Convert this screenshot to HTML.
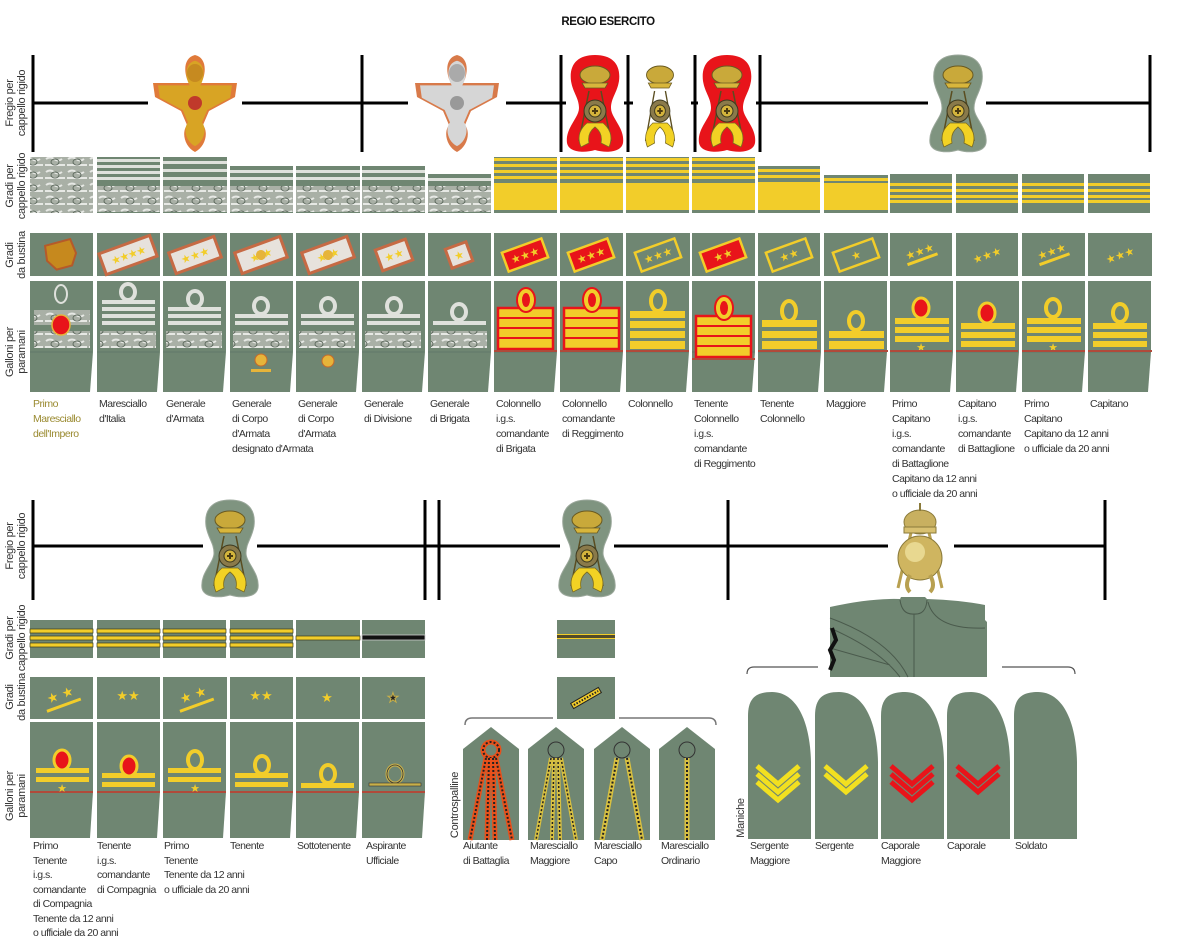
<!DOCTYPE html>
<html><head><meta charset="utf-8"><style>
html,body{margin:0;padding:0;background:#fff;}
svg{display:block}
text{font-family:"Liberation Sans",Arial,sans-serif;}
.l{font-size:10.5px;letter-spacing:-0.5px;fill:#333}
.r{font-size:11px;letter-spacing:-0.3px;fill:#333}
.st{font-size:11px;fill:#f2cd2a;font-family:"DejaVu Sans",sans-serif}
</style></head><body>
<svg width="1200" height="941" viewBox="0 0 1200 941" xmlns="http://www.w3.org/2000/svg">
<defs>
<pattern id="br" x="0" y="0" width="22" height="13" patternUnits="userSpaceOnUse">
<rect width="22" height="13" fill="#a9b0a6"/>
<path d="M2,3 Q6,0 10,3 Q14,6 18,3 M1,9 H21" stroke="#e6e8e4" stroke-width="2" fill="none"/>
<ellipse cx="11" cy="6" rx="4" ry="3" fill="none" stroke="#5e6a5e" stroke-width="1"/>
</pattern>
<path id="pea" d="M0,-48 C18,-48 26,-38 24,-22 C22,-10 16,-5 16,5 C16,15 30,25 28,40 C26,50 10,50 0,47 C-10,50 -26,50 -28,40 C-30,25 -16,15 -16,5 C-16,-5 -22,-10 -24,-22 C-26,-38 -18,-48 0,-48Z"/>
<g id="emb">
<ellipse cx="0" cy="-28" rx="15" ry="9" fill="#c9a93a" stroke="#6a5a20"/>
<path d="M-13,-20 H13 L10,-15 H-10Z" fill="#d8b63c" stroke="#6a5a20" stroke-width="0.8"/>
<path d="M-6,-12 L-16,38 M6,-12 L16,38" stroke="#5a4d20" stroke-width="1.5"/>
<path d="M-8,20 Q-20,30 -14,44 L-6,40 Q-8,30 0,24 Q8,30 6,40 L14,44 Q20,30 8,20Z" fill="#f2d224" stroke="#7a6a20" stroke-width="0.8"/>
<circle cx="0" cy="8" r="11" fill="#8a7a4a" stroke="#3d3a20"/>
<circle cx="0" cy="8" r="6" fill="#d4b43c" stroke="#3d3a20"/>
<path d="M-3,8 H3 M0,5 V11" stroke="#4a3a10" stroke-width="2"/>
</g>
<g id="eagle">
<path d="M0,-48 C9,-46 12,-36 8,-24 L6,-20 L42,-20 L40,-6 L14,8 L8,22 C14,30 10,44 0,49 C-10,44 -14,30 -8,22 L-14,8 L-40,-6 L-42,-20 L-6,-20 L-8,-24 C-12,-36 -9,-46 0,-48Z"/>
</g>
<path id="sl" d="M0,147 V24 C0,6 8,0 24,0 C48,0 62,28 63,70 V147Z" fill="#6f8672"/>
<path id="board" d="M0,22 L28,0 L56,22 V113 H0Z" fill="#6f8672"/>
<g id="gc"><rect y="157" width="63" height="56" fill="#6f8672"/><rect y="158" width="63" height="3" fill="#f2cd2a"/><rect y="164" width="63" height="3" fill="#f2cd2a"/><rect y="170" width="63" height="3" fill="#f2cd2a"/><rect y="176" width="63" height="3" fill="#f2cd2a"/><rect y="183" width="63" height="27" fill="#f2cd2a"/></g>
<g id="cc"><rect y="174" width="62" height="39" fill="#6f8672"/><rect y="183" width="62" height="3" fill="#f2cd2a"/><rect y="189" width="62" height="3" fill="#f2cd2a"/><rect y="195" width="62" height="3" fill="#f2cd2a"/><rect y="200" width="62" height="3" fill="#f2cd2a"/></g>
<g id="pm"><path d="M0,0 H63 V71 L60,111 H0Z" fill="#6f8672"/><line x1="0" y1="71" x2="62" y2="71" stroke="#62786a" stroke-width="1"/></g>
<g id="colR"><rect x="4" y="308" width="55" height="41" fill="#f2cd2a" stroke="#e8141a" stroke-width="2.5"/><path d="M5,318 H58 M5,328 H58 M5,338 H58" stroke="#e8141a" stroke-width="2"/><ellipse cx="32" cy="300" rx="9" ry="12" fill="#f2cd2a" stroke="#e8141a" stroke-width="2"/><ellipse cx="32" cy="300" rx="4" ry="7" fill="#e8141a"/><rect x="0" y="350" width="63" height="2" fill="#b04a3a"/></g>
<g id="tc"><rect y="620" width="63" height="38" fill="#6f8672"/><rect y="629" width="63" height="4" fill="#f2cd2a" stroke="#3a3a1a" stroke-width="0.7"/><rect y="636" width="63" height="4" fill="#f2cd2a" stroke="#3a3a1a" stroke-width="0.7"/><rect y="643" width="63" height="4" fill="#f2cd2a" stroke="#3a3a1a" stroke-width="0.7"/></g>
<g id="pb"><path d="M0,0 H63 V70 L60,116 H0Z" fill="#6f8672"/><rect x="0" y="69" width="63" height="2" fill="#b04a3a"/></g>
</defs>

<text x="608" y="25" text-anchor="middle" style="font-size:11.5px;font-weight:bold;letter-spacing:-0.4px;fill:#111">REGIO ESERCITO</text>

<g class="r">
<text transform="translate(13,103) rotate(-90)" text-anchor="middle">Fregio per</text>
<text transform="translate(25,103) rotate(-90)" text-anchor="middle">cappello rigido</text>
<text transform="translate(13,186) rotate(-90)" text-anchor="middle">Gradi per</text>
<text transform="translate(25,186) rotate(-90)" text-anchor="middle">cappello rigido</text>
<text transform="translate(13,255) rotate(-90)" text-anchor="middle">Gradi</text>
<text transform="translate(25,255) rotate(-90)" text-anchor="middle">da bustina</text>
<text transform="translate(13,352) rotate(-90)" text-anchor="middle">Galloni per</text>
<text transform="translate(25,352) rotate(-90)" text-anchor="middle">paramani</text>

<text transform="translate(13,546) rotate(-90)" text-anchor="middle">Fregio per</text>
<text transform="translate(25,546) rotate(-90)" text-anchor="middle">cappello rigido</text>
<text transform="translate(13,638) rotate(-90)" text-anchor="middle">Gradi per</text>
<text transform="translate(25,638) rotate(-90)" text-anchor="middle">cappello rigido</text>
<text transform="translate(13,697) rotate(-90)" text-anchor="middle">Gradi</text>
<text transform="translate(25,697) rotate(-90)" text-anchor="middle">da bustina</text>
<text transform="translate(13,796) rotate(-90)" text-anchor="middle">Galloni per</text>
<text transform="translate(25,796) rotate(-90)" text-anchor="middle">paramani</text>
<text transform="translate(458,805) rotate(-90)" text-anchor="middle">Controspalline</text>
<text transform="translate(744,818) rotate(-90)" text-anchor="middle">Maniche</text>
</g>

<!-- TOP FREGIO -->
<g stroke="#000" stroke-width="3">
<line x1="33" y1="103" x2="1150" y2="103"/>
<line x1="33" y1="55" x2="33" y2="152"/>
<line x1="362" y1="55" x2="362" y2="152"/>
<line x1="561" y1="55" x2="561" y2="152"/>
<line x1="628" y1="55" x2="628" y2="152"/>
<line x1="695" y1="55" x2="695" y2="152"/>
<line x1="760" y1="55" x2="760" y2="152"/>
<line x1="1150" y1="55" x2="1150" y2="152"/>
</g>
<rect x="148" y="95" width="94" height="16" fill="#fff"/>
<g transform="translate(195,103)"><use href="#eagle" fill="#e07a3a"/><use href="#eagle" fill="#d8a424" transform="scale(0.88)"/><circle cx="0" cy="0" r="7" fill="#c0392b"/><ellipse cx="0" cy="-30" rx="8" ry="9" fill="#c68a20"/></g>
<rect x="408" y="95" width="98" height="16" fill="#fff"/>
<g transform="translate(457,103)"><use href="#eagle" fill="#d87a4a"/><use href="#eagle" fill="#d6d6d6" transform="scale(0.88)"/><circle cx="0" cy="0" r="7" fill="#999"/><ellipse cx="0" cy="-30" rx="8" ry="9" fill="#aaa"/></g>
<rect x="566" y="95" width="58" height="16" fill="#fff"/>
<g transform="translate(595,103)"><use href="#pea" fill="#e8141a"/><use href="#emb"/></g>
<rect x="633" y="95" width="58" height="16" fill="#fff"/>
<g transform="translate(660,103) scale(0.9,1)"><use href="#emb"/></g>
<rect x="698" y="95" width="58" height="16" fill="#fff"/>
<g transform="translate(727,103)"><use href="#pea" fill="#e8141a"/><use href="#emb"/></g>
<rect x="928" y="95" width="58" height="16" fill="#fff"/>
<g transform="translate(958,103)"><use href="#pea" fill="#7f9480" stroke="#9aa79a"/><use href="#emb"/></g>

<!-- ROW 2 gradi cappello (top) -->
<rect x="30" y="157" width="63" height="56" fill="url(#br)"/>
<g transform="translate(97,0)"><rect y="157" width="63" height="56" fill="#6f8672"/><rect y="159" width="63" height="3" fill="#dfe1dc"/><rect y="165" width="63" height="3" fill="#dfe1dc"/><rect y="171" width="63" height="3" fill="#dfe1dc"/><rect y="177" width="63" height="3" fill="#dfe1dc"/><rect y="186" width="63" height="26" fill="url(#br)"/></g>
<g transform="translate(163,0)"><rect y="157" width="64" height="56" fill="#6f8672"/><rect y="161" width="64" height="3" fill="#dfe1dc"/><rect y="169" width="64" height="3" fill="#dfe1dc"/><rect y="177" width="64" height="3" fill="#dfe1dc"/><rect y="186" width="64" height="26" fill="url(#br)"/></g>
<g transform="translate(230,0)"><rect y="166" width="63" height="47" fill="#6f8672"/><rect y="170" width="63" height="3" fill="#dfe1dc"/><rect y="177" width="63" height="3" fill="#dfe1dc"/><rect y="186" width="63" height="26" fill="url(#br)"/></g>
<g transform="translate(296,0)"><rect y="166" width="64" height="47" fill="#6f8672"/><rect y="170" width="64" height="3" fill="#dfe1dc"/><rect y="177" width="64" height="3" fill="#dfe1dc"/><rect y="186" width="64" height="26" fill="url(#br)"/></g>
<g transform="translate(362,0)"><rect y="166" width="63" height="47" fill="#6f8672"/><rect y="170" width="63" height="3" fill="#dfe1dc"/><rect y="177" width="63" height="3" fill="#dfe1dc"/><rect y="186" width="63" height="26" fill="url(#br)"/></g>
<g transform="translate(428,0)"><rect y="174" width="63" height="39" fill="#6f8672"/><rect y="178" width="63" height="3" fill="#dfe1dc"/><rect y="186" width="63" height="26" fill="url(#br)"/></g>
<use href="#gc" x="494"/><use href="#gc" x="560"/><use href="#gc" x="626"/><use href="#gc" x="692"/>
<g transform="translate(758,0)"><rect y="166" width="62" height="47" fill="#6f8672"/><rect y="169" width="62" height="3" fill="#f2cd2a"/><rect y="175" width="62" height="3" fill="#f2cd2a"/><rect y="182" width="62" height="28" fill="#f2cd2a"/></g>
<g transform="translate(824,0)"><rect y="175" width="64" height="38" fill="#6f8672"/><rect y="178" width="64" height="3" fill="#f2cd2a"/><rect y="183" width="64" height="27" fill="#f2cd2a"/></g>
<use href="#cc" x="890"/><use href="#cc" x="956"/><use href="#cc" x="1022"/><use href="#cc" x="1088"/>

<!-- ROW 3 bustina (top) -->
<g fill="#6f8672">
<rect x="30" y="233" width="63" height="43"/><rect x="97" y="233" width="63" height="43"/><rect x="163" y="233" width="64" height="43"/><rect x="230" y="233" width="63" height="43"/><rect x="296" y="233" width="64" height="43"/><rect x="362" y="233" width="63" height="43"/><rect x="428" y="233" width="63" height="43"/><rect x="494" y="233" width="63" height="43"/><rect x="560" y="233" width="63" height="43"/><rect x="626" y="233" width="64" height="43"/><rect x="692" y="233" width="63" height="43"/><rect x="758" y="233" width="62" height="43"/><rect x="824" y="233" width="64" height="43"/><rect x="890" y="233" width="62" height="43"/><rect x="956" y="233" width="62" height="43"/><rect x="1022" y="233" width="63" height="43"/><rect x="1088" y="233" width="64" height="43"/>
</g>
<g>
<g transform="translate(61,255) rotate(-15)"><path d="M-13,-13 L13,-13 L15,2 L8,13 L-8,13 L-15,2Z" fill="#c6891e" stroke="#b55a2a" stroke-width="2"/></g>
<g transform="translate(128,255) rotate(-20)"><rect x="-27" y="-11" width="54" height="22" fill="#e7e2dc" stroke="#c66a44" stroke-width="3"/><text x="0" y="4" text-anchor="middle" class="st" style="letter-spacing:-1px">★★★★</text></g>
<g transform="translate(195,255) rotate(-20)"><rect x="-24" y="-11" width="48" height="22" fill="#e7e2dc" stroke="#c66a44" stroke-width="3"/><text x="0" y="4" text-anchor="middle" class="st">★★★</text></g>
<g transform="translate(261,255) rotate(-20)"><rect x="-24" y="-11" width="48" height="22" fill="#e7e2dc" stroke="#c66a44" stroke-width="3"/><text x="0" y="4" text-anchor="middle" class="st">★ ★</text><circle cx="0" cy="0" r="5" fill="#e6b43a"/></g>
<g transform="translate(328,255) rotate(-20)"><rect x="-24" y="-11" width="48" height="22" fill="#e7e2dc" stroke="#c66a44" stroke-width="3"/><text x="0" y="4" text-anchor="middle" class="st">★ ★</text><circle cx="0" cy="0" r="5" fill="#e6b43a"/></g>
<g transform="translate(394,255) rotate(-20)"><rect x="-16" y="-11" width="32" height="22" fill="#e7e2dc" stroke="#c66a44" stroke-width="3"/><text x="0" y="4" text-anchor="middle" class="st">★★</text></g>
<g transform="translate(459,255) rotate(-20)"><rect x="-11" y="-10" width="22" height="20" fill="#e7e2dc" stroke="#c66a44" stroke-width="3"/><text x="0" y="4" text-anchor="middle" class="st">★</text></g>
<g transform="translate(525,255) rotate(-20)"><rect x="-21" y="-10" width="42" height="20" fill="#e8141a" stroke="#f2cd2a" stroke-width="2.5"/><text x="0" y="4" text-anchor="middle" class="st">★★★</text></g>
<g transform="translate(591,255) rotate(-20)"><rect x="-21" y="-10" width="42" height="20" fill="#e8141a" stroke="#f2cd2a" stroke-width="2.5"/><text x="0" y="4" text-anchor="middle" class="st">★★★</text></g>
<g transform="translate(658,255) rotate(-20)"><rect x="-21" y="-10" width="42" height="20" fill="none" stroke="#f2cd2a" stroke-width="2.5"/><text x="0" y="4" text-anchor="middle" class="st">★★★</text></g>
<g transform="translate(723,255) rotate(-20)"><rect x="-21" y="-10" width="42" height="20" fill="#e8141a" stroke="#f2cd2a" stroke-width="2.5"/><text x="0" y="4" text-anchor="middle" class="st">★★</text></g>
<g transform="translate(789,255) rotate(-20)"><rect x="-21" y="-10" width="42" height="20" fill="none" stroke="#f2cd2a" stroke-width="2.5"/><text x="0" y="4" text-anchor="middle" class="st">★★</text></g>
<g transform="translate(856,255) rotate(-20)"><rect x="-21" y="-10" width="42" height="20" fill="none" stroke="#f2cd2a" stroke-width="2.5"/><text x="0" y="4" text-anchor="middle" class="st">★</text></g>
<g transform="translate(921,255) rotate(-20)"><text x="0" y="0" text-anchor="middle" class="st">★★★</text><rect x="-16" y="3" width="32" height="3" fill="#f2cd2a"/></g>
<g transform="translate(987,255) rotate(-20)"><text x="0" y="4" text-anchor="middle" class="st">★★★</text></g>
<g transform="translate(1053,255) rotate(-20)"><text x="0" y="0" text-anchor="middle" class="st">★★★</text><rect x="-16" y="3" width="32" height="3" fill="#f2cd2a"/></g>
<g transform="translate(1120,255) rotate(-20)"><text x="0" y="4" text-anchor="middle" class="st">★★★</text></g>
</g>

<!-- ROW 4 paramani (top) -->
<use href="#pm" x="30" y="281"/><use href="#pm" x="97" y="281"/><use href="#pm" x="163" y="281"/><use href="#pm" x="230" y="281"/><use href="#pm" x="296" y="281"/><use href="#pm" x="362" y="281"/><use href="#pm" x="428" y="281"/><use href="#pm" x="494" y="281"/><use href="#pm" x="560" y="281"/><use href="#pm" x="626" y="281"/><use href="#pm" x="692" y="281"/><use href="#pm" x="758" y="281"/><use href="#pm" x="824" y="281"/><use href="#pm" x="890" y="281"/><use href="#pm" x="956" y="281"/><use href="#pm" x="1022" y="281"/><use href="#pm" x="1088" y="281"/>
<g fill="none" stroke="#dfe1dc" stroke-width="4">
<ellipse cx="61" cy="294" rx="6" ry="9" stroke-width="2"/>
<ellipse cx="128" cy="292" rx="7" ry="8"/><ellipse cx="195" cy="299" rx="7" ry="8"/><ellipse cx="261" cy="306" rx="7" ry="8"/><ellipse cx="328" cy="306" rx="7" ry="8"/><ellipse cx="394" cy="306" rx="7" ry="8"/><ellipse cx="459" cy="312" rx="7" ry="8"/>
</g>
<g fill="#dfe1dc">
<rect x="102" y="300" width="53" height="4"/><rect x="102" y="307" width="53" height="4"/><rect x="102" y="314" width="53" height="4"/><rect x="102" y="321" width="53" height="4"/>
<rect x="168" y="307" width="53" height="4"/><rect x="168" y="314" width="53" height="4"/><rect x="168" y="321" width="53" height="4"/>
<rect x="235" y="314" width="53" height="4"/><rect x="235" y="321" width="53" height="4"/>
<rect x="301" y="314" width="53" height="4"/><rect x="301" y="321" width="53" height="4"/>
<rect x="367" y="314" width="53" height="4"/><rect x="367" y="321" width="53" height="4"/>
<rect x="433" y="321" width="53" height="4"/>
</g>
<g fill="url(#br)">
<rect x="34" y="310" width="56" height="15"/><rect x="34" y="331" width="56" height="17"/>
<rect x="100" y="331" width="56" height="17"/><rect x="166" y="331" width="56" height="17"/><rect x="233" y="331" width="56" height="17"/><rect x="299" y="331" width="56" height="17"/><rect x="365" y="331" width="56" height="17"/><rect x="431" y="331" width="56" height="17"/>
</g>
<ellipse cx="61" cy="325" rx="9" ry="10" fill="#e8141a" stroke="#e6b43a" stroke-width="1.5"/>
<circle cx="261" cy="360" r="6" fill="#e6b43a" stroke="#c66a2a"/><rect x="251" y="369" width="20" height="3" fill="#e6b43a"/>
<circle cx="328" cy="361" r="6" fill="#e6b43a" stroke="#c66a2a"/>
<use href="#colR" x="494"/><use href="#colR" x="560"/><use href="#colR" x="692" y="8"/>
<g fill="#f2cd2a">
<rect x="630" y="311" width="55" height="7"/><rect x="630" y="321" width="55" height="7"/><rect x="630" y="331" width="55" height="7"/><rect x="630" y="341" width="55" height="8"/>
<rect x="762" y="320" width="55" height="7"/><rect x="762" y="331" width="55" height="7"/><rect x="762" y="341" width="55" height="8"/>
<rect x="829" y="331" width="55" height="7"/><rect x="829" y="341" width="55" height="8"/>
<rect x="895" y="318" width="54" height="6"/><rect x="895" y="327" width="54" height="6"/><rect x="895" y="336" width="54" height="6"/>
<rect x="961" y="323" width="54" height="6"/><rect x="961" y="332" width="54" height="6"/><rect x="961" y="341" width="54" height="6"/>
<rect x="1027" y="318" width="54" height="6"/><rect x="1027" y="327" width="54" height="6"/><rect x="1027" y="336" width="54" height="6"/>
<rect x="1093" y="323" width="54" height="6"/><rect x="1093" y="332" width="54" height="6"/><rect x="1093" y="341" width="54" height="6"/>
</g>
<g fill="none" stroke="#f2cd2a" stroke-width="4">
<ellipse cx="658" cy="301" rx="7" ry="10"/><ellipse cx="789" cy="311" rx="7" ry="10"/><ellipse cx="856" cy="321" rx="7" ry="9"/>
<ellipse cx="1053" cy="308" rx="7" ry="9"/><ellipse cx="1120" cy="313" rx="7" ry="9"/>
</g>
<ellipse cx="921" cy="308" rx="8" ry="10" fill="#e8141a" stroke="#f2cd2a" stroke-width="3"/>
<ellipse cx="987" cy="313" rx="8" ry="10" fill="#e8141a" stroke="#f2cd2a" stroke-width="3"/>
<text x="921" y="351" text-anchor="middle" class="st">★</text><text x="1053" y="351" text-anchor="middle" class="st">★</text>
<g fill="#b04a3a"><rect x="626" y="350" width="63" height="2"/><rect x="758" y="350" width="62" height="2"/><rect x="824" y="350" width="64" height="2"/><rect x="890" y="350" width="62" height="2"/><rect x="956" y="350" width="62" height="2"/><rect x="1022" y="350" width="63" height="2"/><rect x="1088" y="350" width="64" height="2"/></g>

<g class="l">
<text x="33" y="407" style="fill:#9a8a30">Primo</text><text x="33" y="422" style="fill:#9a8a30">Maresciallo</text><text x="33" y="437" style="fill:#9a8a30">dell'Impero</text>
<text x="99" y="407">Maresciallo</text><text x="99" y="422">d'Italia</text>
<text x="166" y="407">Generale</text><text x="166" y="422">d'Armata</text>
<text x="232" y="407">Generale</text><text x="232" y="422">di Corpo</text><text x="232" y="437">d'Armata</text><text x="232" y="452">designato d'Armata</text>
<text x="298" y="407">Generale</text><text x="298" y="422">di Corpo</text><text x="298" y="437">d'Armata</text>
<text x="364" y="407">Generale</text><text x="364" y="422">di Divisione</text>
<text x="430" y="407">Generale</text><text x="430" y="422">di Brigata</text>
<text x="496" y="407">Colonnello</text><text x="496" y="422">i.g.s.</text><text x="496" y="437">comandante</text><text x="496" y="452">di Brigata</text>
<text x="562" y="407">Colonnello</text><text x="562" y="422">comandante</text><text x="562" y="437">di Reggimento</text>
<text x="628" y="407">Colonnello</text>
<text x="694" y="407">Tenente</text><text x="694" y="422">Colonnello</text><text x="694" y="437">i.g.s.</text><text x="694" y="452">comandante</text><text x="694" y="467">di Reggimento</text>
<text x="760" y="407">Tenente</text><text x="760" y="422">Colonnello</text>
<text x="826" y="407">Maggiore</text>
<text x="892" y="407">Primo</text><text x="892" y="422">Capitano</text><text x="892" y="437">i.g.s.</text><text x="892" y="452">comandante</text><text x="892" y="467">di Battaglione</text><text x="892" y="482">Capitano da 12 anni</text><text x="892" y="497">o ufficiale da 20 anni</text>
<text x="958" y="407">Capitano</text><text x="958" y="422">i.g.s.</text><text x="958" y="437">comandante</text><text x="958" y="452">di Battaglione</text>
<text x="1024" y="407">Primo</text><text x="1024" y="422">Capitano</text><text x="1024" y="437">Capitano da 12 anni</text><text x="1024" y="452">o ufficiale da 20 anni</text>
<text x="1090" y="407">Capitano</text>
</g>

<!-- BOTTOM FREGIO -->
<g stroke="#000" stroke-width="3">
<line x1="33" y1="546" x2="1105" y2="546"/>
<line x1="33" y1="500" x2="33" y2="600"/>
<line x1="425" y1="500" x2="425" y2="600"/>
<line x1="439" y1="500" x2="439" y2="600"/>
<line x1="728" y1="500" x2="728" y2="600"/>
<line x1="1105" y1="500" x2="1105" y2="600"/>
</g>
<rect x="203" y="538" width="54" height="16" fill="#fff"/>
<g transform="translate(230,548)"><use href="#pea" fill="#7f9480" stroke="#9aa79a"/><use href="#emb"/></g>
<rect x="560" y="538" width="54" height="16" fill="#fff"/>
<g transform="translate(587,548)"><use href="#pea" fill="#7f9480" stroke="#9aa79a"/><use href="#emb"/></g>
<rect x="888" y="538" width="66" height="16" fill="#fff"/>
<g transform="translate(920,0)">
<path d="M-6,520 L-22,588 M6,520 L22,588" stroke="#b8a050" stroke-width="3"/>
<ellipse cx="0" cy="522" rx="16" ry="12" fill="#c8b060" stroke="#8a7a3a"/>
<rect x="-16" y="527" width="32" height="6" fill="#d8c070" stroke="#8a7a3a"/>
<line x1="0" y1="503" x2="0" y2="511" stroke="#8a7a3a" stroke-width="2"/>
<circle cx="0" cy="558" r="22" fill="#cfb560" stroke="#8a7a3a"/>
<circle cx="-5" cy="552" r="10" fill="#e8d890"/>
<path d="M-10,575 Q-16,586 -10,592 M10,575 Q16,586 10,592" stroke="#b8a050" stroke-width="4" fill="none"/>
</g>

<!-- bottom cappello -->
<use href="#tc" x="30"/><use href="#tc" x="97"/><use href="#tc" x="163"/><use href="#tc" x="230"/>
<g transform="translate(296,0)"><rect y="620" width="64" height="38" fill="#6f8672"/><rect y="636" width="64" height="4" fill="#f2cd2a" stroke="#3a3a1a" stroke-width="0.7"/></g>
<g transform="translate(362,0)"><rect y="620" width="63" height="38" fill="#6f8672"/><rect y="635" width="63" height="5" fill="#111" stroke="#ccc" stroke-width="0.8"/></g>
<g transform="translate(557,0)"><rect y="620" width="58" height="38" fill="#6f8672"/><rect y="634" width="58" height="5" fill="#f2cd2a"/><rect y="635" width="58" height="3" fill="#2a2a2a" opacity="0.8"/></g>

<!-- bottom bustina -->
<g fill="#6f8672"><rect x="30" y="677" width="63" height="42"/><rect x="97" y="677" width="63" height="42"/><rect x="163" y="677" width="64" height="42"/><rect x="230" y="677" width="63" height="42"/><rect x="296" y="677" width="64" height="42"/><rect x="362" y="677" width="63" height="42"/><rect x="557" y="677" width="58" height="42"/></g>
<g>
<g transform="translate(62,700) rotate(-20)"><text x="0" y="-1" text-anchor="middle" class="st" style="font-size:13px">★ ★</text><rect x="-18" y="4" width="36" height="3" fill="#f2cd2a"/></g>
<text x="128" y="700" text-anchor="middle" class="st" style="font-size:13px">★★</text>
<g transform="translate(195,700) rotate(-20)"><text x="0" y="-1" text-anchor="middle" class="st" style="font-size:13px">★ ★</text><rect x="-18" y="4" width="36" height="3" fill="#f2cd2a"/></g>
<text x="261" y="700" text-anchor="middle" class="st" style="font-size:13px">★★</text>
<text x="327" y="702" text-anchor="middle" class="st" style="font-size:13px">★</text>
<text x="393" y="702" text-anchor="middle" class="st" style="font-size:13px;fill:#222;stroke:#c8b04a;stroke-width:1">★</text>
<g transform="translate(586,698) rotate(-30)"><rect x="-16" y="-3" width="32" height="6" fill="#f2cd2a" stroke="#222" stroke-width="1"/><path d="M-14,0 H14" stroke="#222" stroke-width="2" stroke-dasharray="1.5 1.5"/></g>
</g>

<!-- bottom paramani -->
<use href="#pb" x="30" y="722"/><use href="#pb" x="97" y="722"/><use href="#pb" x="163" y="722"/><use href="#pb" x="230" y="722"/><use href="#pb" x="296" y="722"/><use href="#pb" x="362" y="722"/>
<g fill="#f2cd2a">
<rect x="36" y="768" width="53" height="5"/><rect x="36" y="777" width="53" height="5"/>
<rect x="102" y="773" width="53" height="5"/><rect x="102" y="782" width="53" height="5"/>
<rect x="168" y="768" width="53" height="5"/><rect x="168" y="777" width="53" height="5"/>
<rect x="235" y="773" width="53" height="5"/><rect x="235" y="782" width="53" height="5"/>
<rect x="301" y="783" width="53" height="5"/>
</g>
<ellipse cx="62" cy="760" rx="8" ry="10" fill="#e8141a" stroke="#f2cd2a" stroke-width="3"/>
<ellipse cx="129" cy="766" rx="8" ry="10" fill="#e8141a" stroke="#f2cd2a" stroke-width="3"/>
<g fill="none" stroke="#f2cd2a" stroke-width="4">
<ellipse cx="195" cy="760" rx="7" ry="9"/><ellipse cx="262" cy="765" rx="7" ry="9"/><ellipse cx="328" cy="774" rx="7" ry="9"/>
</g>
<ellipse cx="395" cy="774" rx="8" ry="9" fill="none" stroke="#c8b04a" stroke-width="3"/><ellipse cx="395" cy="774" rx="8" ry="9" fill="none" stroke="#333" stroke-width="0.8"/>
<rect x="369" y="783" width="52" height="3" fill="#c8b04a" stroke="#333" stroke-width="0.6"/>
<text x="62" y="792" text-anchor="middle" class="st">★</text><text x="195" y="792" text-anchor="middle" class="st">★</text>

<g class="l">
<text x="33" y="849">Primo</text><text x="33" y="864">Tenente</text><text x="33" y="878">i.g.s.</text><text x="33" y="893">comandante</text><text x="33" y="907">di Compagnia</text><text x="33" y="922">Tenente da 12 anni</text><text x="33" y="936">o ufficiale da 20 anni</text>
<text x="97" y="849">Tenente</text><text x="97" y="864">i.g.s.</text><text x="97" y="878">comandante</text><text x="97" y="893">di Compagnia</text>
<text x="164" y="849">Primo</text><text x="164" y="864">Tenente</text><text x="164" y="878">Tenente da 12 anni</text><text x="164" y="893">o ufficiale da 20 anni</text>
<text x="230" y="849">Tenente</text>
<text x="297" y="849">Sottotenente</text>
<text x="366" y="849">Aspirante</text><text x="366" y="864">Ufficiale</text>
<text x="463" y="849">Aiutante</text><text x="463" y="864">di Battaglia</text>
<text x="530" y="849">Maresciallo</text><text x="530" y="864">Maggiore</text>
<text x="594" y="849">Maresciallo</text><text x="594" y="864">Capo</text>
<text x="661" y="849">Maresciallo</text><text x="661" y="864">Ordinario</text>
<text x="750" y="849">Sergente</text><text x="750" y="864">Maggiore</text>
<text x="815" y="849">Sergente</text>
<text x="881" y="849">Caporale</text><text x="881" y="864">Maggiore</text>
<text x="947" y="849">Caporale</text>
<text x="1015" y="849">Soldato</text>
</g>

<!-- controspalline -->
<path d="M465,725 Q465,718 472,718 H553 M619,718 H709 Q716,718 716,725" fill="none" stroke="#777" stroke-width="1.5"/>
<use href="#board" x="463" y="727"/><use href="#board" x="528" y="727"/><use href="#board" x="594" y="727"/><use href="#board" x="659" y="727"/>
<g fill="none">
<circle cx="491" cy="750" r="8" stroke="#e8501a" stroke-width="5"/><circle cx="491" cy="750" r="8" stroke="#222" stroke-width="2" stroke-dasharray="2 2"/>
<path d="M486,758 L470,840 M496,758 L512,840 M489,758 L487,840 M493,758 L495,840" stroke="#e8501a" stroke-width="5"/>
<path d="M486,758 L470,840 M496,758 L512,840 M489,758 L487,840 M493,758 L495,840" stroke="#222" stroke-width="2" stroke-dasharray="2 2"/>
<circle cx="556" cy="750" r="8" stroke="#333" stroke-width="1"/>
<path d="M551,758 L536,840 M561,758 L576,840 M554,758 L552,840 M558,758 L560,840" stroke="#d8c040" stroke-width="4"/>
<path d="M551,758 L536,840 M561,758 L576,840 M554,758 L552,840 M558,758 L560,840" stroke="#222" stroke-width="1.5" stroke-dasharray="2 2"/>
<circle cx="622" cy="750" r="8" stroke="#333" stroke-width="1"/>
<path d="M617,758 L602,840 M627,758 L642,840" stroke="#d8c040" stroke-width="5"/>
<path d="M617,758 L602,840 M627,758 L642,840" stroke="#222" stroke-width="2" stroke-dasharray="2 2"/>
<circle cx="687" cy="750" r="8" stroke="#333" stroke-width="1"/>
<path d="M687,758 V840" stroke="#d8c040" stroke-width="5"/>
<path d="M687,758 V840" stroke="#222" stroke-width="2" stroke-dasharray="2 2"/>
</g>

<!-- maniche -->
<path d="M747,674 Q747,667 754,667 H818 M1002,667 H1068 Q1075,667 1075,674" fill="none" stroke="#555" stroke-width="1.2"/>
<g transform="translate(830,0)">
<path d="M0,607 Q40,598 70,599 L71,597 H95 L97,599 Q130,600 155,605 V620 L157,622 V677 H0Z" fill="#6f8672"/>
<path d="M70,600 Q72,615 84,614 Q96,615 97,600 M84,614 V677 M98,602 Q105,630 155,628 M0,618 Q60,640 78,677 M0,628 Q50,650 70,677 M0,648 L60,665" fill="none" stroke="#4a5a4c" stroke-width="1"/>
<path d="M2,628 L6,640 L0,650 L4,660 L0,670" stroke="#111" stroke-width="4" fill="none"/>
</g>
<use href="#sl" x="748" y="692"/><use href="#sl" x="815" y="692"/><use href="#sl" x="881" y="692"/><use href="#sl" x="947" y="692"/><use href="#sl" x="1014" y="692"/>
<g fill="none" stroke-width="5">
<path d="M757,766 L778,784 L799,766 M757,774 L778,792 L799,774 M757,782 L778,800 L799,782" stroke="#f2e020"/>
<path d="M825,766 L846,784 L867,766 M825,774 L846,792 L867,774" stroke="#f2e020"/>
<path d="M891,766 L912,784 L933,766 M891,774 L912,792 L933,774 M891,782 L912,800 L933,782" stroke="#e8141a"/>
<path d="M957,766 L978,784 L999,766 M957,774 L978,792 L999,774" stroke="#e8141a"/>
</g>
</svg>
</body></html>
